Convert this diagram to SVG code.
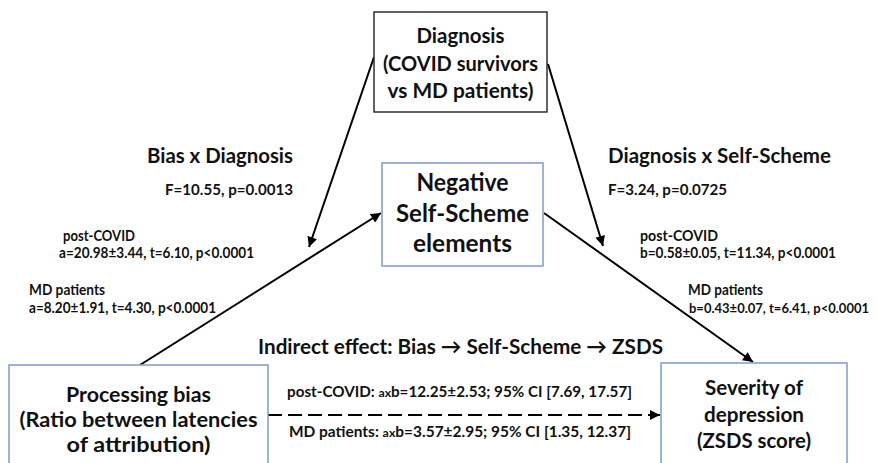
<svg xmlns="http://www.w3.org/2000/svg" width="878" height="463" viewBox="0 0 878 463">
  <style>
    text { font-family: "Lato", "Liberation Sans", sans-serif; font-weight: bold; fill: #111; }
    .mid { text-anchor: middle; }
    .blue { fill: #ffffff; stroke: #7f9bcf; stroke-width: 1.5; }
    .black { fill: #ffffff; stroke: #222; stroke-width: 1.4; }
    .conn { stroke: #000; stroke-width: 2; fill: none; }
    .dash { stroke-dasharray: 14 6; }
    .t22 { font-size: 20.5px; }
    .t25 { font-size: 24px; }
    .t21 { font-size: 21px; }
    .f15 { font-size: 15.5px; }
    .s14 { font-size: 14.5px; }
    .b15 { font-size: 15px; }
  </style>
  <defs>
    <marker id="arr" viewBox="0 0 10 10" refX="10" refY="5" markerWidth="5.5" markerHeight="5" orient="auto" markerUnits="strokeWidth">
      <path d="M0,0 L10,5 L0,10 z" fill="#000"/>
    </marker>
  </defs>

  <g id="connectors">
    <line class="conn" x1="140" y1="365" x2="381" y2="213" marker-end="url(#arr)"/>
    <line class="conn" x1="544" y1="213" x2="753" y2="362" marker-end="url(#arr)"/>
    <line class="conn" x1="374" y1="57" x2="309" y2="247" marker-end="url(#arr)"/>
    <line class="conn" x1="548" y1="64" x2="603" y2="246" marker-end="url(#arr)"/>
    <line class="conn dash" x1="268" y1="415" x2="660" y2="415" marker-end="url(#arr)"/>
  </g>

  <g id="diagnosis">
    <rect class="black" x="374" y="12" width="173" height="100"/>
    <text class="t22 mid" x="460.5" y="43" textLength="88" lengthAdjust="spacingAndGlyphs">Diagnosis</text>
    <text class="t22 mid" x="460.5" y="71" textLength="155" lengthAdjust="spacingAndGlyphs">(COVID survivors</text>
    <text class="t22 mid" x="460.5" y="98" textLength="146" lengthAdjust="spacingAndGlyphs">vs MD patients)</text>
  </g>

  <g id="self-scheme">
    <rect class="blue" x="382" y="163" width="161" height="103"/>
    <text class="t25 mid" x="462.5" y="191" textLength="92" lengthAdjust="spacingAndGlyphs">Negative</text>
    <text class="t25 mid" x="462.5" y="222" textLength="133" lengthAdjust="spacingAndGlyphs">Self-Scheme</text>
    <text class="t25 mid" x="462.5" y="252" textLength="99" lengthAdjust="spacingAndGlyphs">elements</text>
  </g>

  <g id="processing-bias">
    <rect class="blue" x="9" y="365" width="259" height="110"/>
    <text class="t21 mid" x="138.5" y="402" textLength="145" lengthAdjust="spacingAndGlyphs">Processing bias</text>
    <text class="t21 mid" x="138.5" y="427" textLength="238" lengthAdjust="spacingAndGlyphs">(Ratio between latencies</text>
    <text class="t21 mid" x="138.5" y="452" textLength="144" lengthAdjust="spacingAndGlyphs">of attribution)</text>
  </g>

  <g id="severity">
    <rect class="blue" x="661" y="363" width="186" height="110"/>
    <text class="t22 mid" x="754" y="395" textLength="98" lengthAdjust="spacingAndGlyphs">Severity of</text>
    <text class="t22 mid" x="754" y="422" textLength="100" lengthAdjust="spacingAndGlyphs">depression</text>
    <text class="t22 mid" x="754" y="448" textLength="114" lengthAdjust="spacingAndGlyphs">(ZSDS score)</text>
  </g>

  <g id="labels-left">
    <text class="t22" x="147" y="163" textLength="146" lengthAdjust="spacingAndGlyphs">Bias x Diagnosis</text>
    <text class="f15" x="165" y="195" textLength="128" lengthAdjust="spacingAndGlyphs">F=10.55, p=0.0013</text>
    <text class="s14" x="63" y="241" textLength="72" lengthAdjust="spacingAndGlyphs">post-COVID</text>
    <text class="s14" x="59" y="258" textLength="195" lengthAdjust="spacingAndGlyphs">a=20.98±3.44, t=6.10, p&lt;0.0001</text>
    <text class="s14" x="29" y="295" textLength="76" lengthAdjust="spacingAndGlyphs">MD patients</text>
    <text class="s14" x="29" y="313" textLength="187" lengthAdjust="spacingAndGlyphs">a=8.20±1.91, t=4.30, p&lt;0.0001</text>
  </g>

  <g id="labels-right">
    <text class="t22" x="608" y="163" textLength="223" lengthAdjust="spacingAndGlyphs">Diagnosis x Self-Scheme</text>
    <text class="f15" x="608" y="195" textLength="119" lengthAdjust="spacingAndGlyphs">F=3.24, p=0.0725</text>
    <text class="s14" x="640" y="241" textLength="78" lengthAdjust="spacingAndGlyphs">post-COVID</text>
    <text class="s14" x="640" y="258" textLength="196" lengthAdjust="spacingAndGlyphs">b=0.58±0.05, t=11.34, p&lt;0.0001</text>
    <text class="s14" x="688" y="295" textLength="75" lengthAdjust="spacingAndGlyphs">MD patients</text>
    <text x="689" y="313" font-size="13.2" textLength="180" lengthAdjust="spacingAndGlyphs">b=0.43±0.07, t=6.41, p&lt;0.0001</text>
  </g>

  <g id="labels-indirect">
    <text class="t22" x="258" y="354" textLength="405" lengthAdjust="spacingAndGlyphs">Indirect effect: Bias → Self-Scheme → ZSDS</text>
    <text class="b15" x="287" y="397" textLength="345" lengthAdjust="spacingAndGlyphs">post-COVID: <tspan font-size="12">ax</tspan>b=12.25±2.53; 95% CI [7.69, 17.57]</text>
    <text class="b15" x="289" y="437" textLength="342" lengthAdjust="spacingAndGlyphs">MD patients: <tspan font-size="12">ax</tspan>b=3.57±2.95; 95% CI [1.35, 12.37]</text>
  </g>
</svg>
